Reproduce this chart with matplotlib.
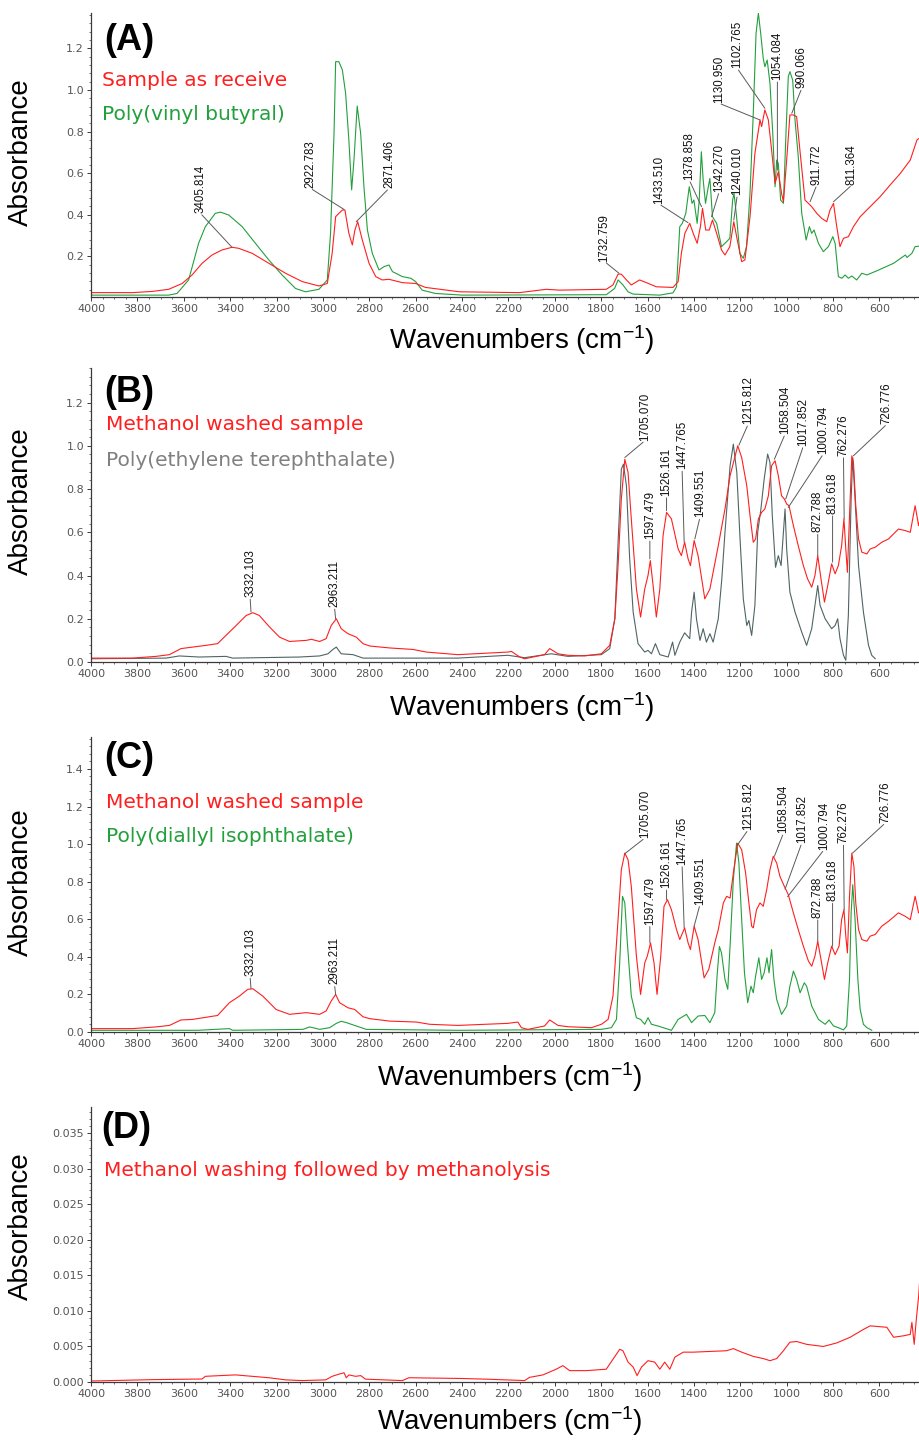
import matplotlib
matplotlib.use('Agg')
import matplotlib.pyplot as plt
from matplotlib.ticker import MultipleLocator, FormatStrFormatter

plt.rcParams['mathtext.fontset'] = 'custom'
plt.rcParams['mathtext.rm'] = 'Liberation Sans'
plt.rcParams['mathtext.it'] = 'Liberation Sans:italic'
plt.rcParams['mathtext.bf'] = 'Liberation Sans:bold'

# ---------------- data ----------------
# Panel A
a_red_wn = [4000, 3820, 3734, 3665, 3607, 3564, 3521, 3478, 3435, 3392,
            3363, 3305, 3233, 3161, 3089, 3017, 2981, 2960, 2945, 2931,
            2916, 2905, 2888, 2873, 2862, 2850, 2830, 2801, 2772, 2744,
            2715, 2657, 2600, 2557, 2411, 2152, 2037, 1979, 1778, 1749,
            1727, 1713, 1691, 1670, 1634, 1605, 1562, 1490, 1468, 1454,
            1439, 1418, 1403, 1386, 1372, 1363, 1349, 1334, 1320, 1302,
            1281, 1266, 1245, 1228, 1213, 1194, 1180, 1158, 1137, 1115,
            1108, 1094, 1079, 1065, 1050, 1036, 1022, 1014, 1000, 986,
            971, 957, 943, 921, 906, 892, 870, 849, 827, 813,
            798, 784, 770, 755, 734, 712, 683, 640, 597, 554,
            510, 467, 438, 425]
a_red_ab = [0.026, 0.026, 0.032, 0.042, 0.070, 0.111, 0.167, 0.207, 0.231, 0.244,
            0.239, 0.215, 0.167, 0.119, 0.079, 0.058, 0.070, 0.215, 0.391, 0.407,
            0.423, 0.423, 0.311, 0.255, 0.327, 0.367, 0.279, 0.167, 0.103, 0.087,
            0.090, 0.074, 0.070, 0.051, 0.030, 0.026, 0.042, 0.038, 0.042, 0.063,
            0.115, 0.115, 0.087, 0.063, 0.087, 0.074, 0.054, 0.051, 0.079, 0.215,
            0.311, 0.359, 0.311, 0.263, 0.343, 0.431, 0.327, 0.327, 0.375, 0.311,
            0.231, 0.207, 0.247, 0.367, 0.279, 0.175, 0.183, 0.391, 0.695, 0.856,
            0.824, 0.904, 0.856, 0.712, 0.551, 0.607, 0.503, 0.463, 0.663, 0.880,
            0.880, 0.872, 0.712, 0.471, 0.455, 0.439, 0.407, 0.383, 0.367, 0.423,
            0.455, 0.343, 0.247, 0.287, 0.295, 0.343, 0.391, 0.439, 0.487, 0.543,
            0.599, 0.663, 0.760, 0.770]
a_grn_wn = [4000, 3665, 3629, 3579, 3536, 3507, 3464, 3442, 3406, 3348,
            3291, 3233, 3176, 3118, 3075, 3017, 2981, 2967, 2952, 2945,
            2931, 2916, 2902, 2888, 2876, 2866, 2852, 2837, 2823, 2808,
            2787, 2758, 2736, 2715, 2700, 2657, 2621, 2600, 2572, 2514,
            2398, 1778, 1742, 1727, 1706, 1684, 1662, 1547, 1490, 1475,
            1461, 1450, 1435, 1420, 1408, 1400, 1386, 1377, 1368, 1360,
            1350, 1338, 1331, 1320, 1302, 1281, 1259, 1245, 1233, 1227,
            1216, 1202, 1187, 1173, 1158, 1144, 1132, 1122, 1112, 1101,
            1094, 1084, 1072, 1060, 1050, 1043, 1036, 1026, 1014, 1003,
            993, 986, 974, 964, 950, 935, 916, 902, 892, 882,
            863, 842, 820, 801, 791, 777, 762, 748, 734, 719,
            698, 676, 654, 611, 539, 488, 481, 460, 446, 425]
a_grn_ab = [0.014, 0.014, 0.022, 0.087, 0.263, 0.343, 0.407, 0.413, 0.399, 0.343,
            0.263, 0.183, 0.111, 0.046, 0.030, 0.042, 0.087, 0.311, 0.790, 1.136,
            1.136, 1.096, 0.984, 0.760, 0.520, 0.663, 0.923, 0.790, 0.535, 0.327,
            0.215, 0.135, 0.151, 0.159, 0.127, 0.103, 0.095, 0.079, 0.038, 0.022,
            0.014, 0.016, 0.046, 0.087, 0.063, 0.030, 0.019, 0.014, 0.025, 0.054,
            0.343, 0.359, 0.407, 0.535, 0.455, 0.471, 0.359, 0.471, 0.703, 0.567,
            0.455, 0.535, 0.575, 0.391, 0.359, 0.247, 0.271, 0.287, 0.471, 0.503,
            0.391, 0.215, 0.191, 0.247, 0.503, 0.888, 1.272, 1.369, 1.272, 1.152,
            1.112, 1.144, 1.032, 0.792, 0.535, 0.663, 0.647, 0.471, 0.455, 0.792,
            1.064, 1.088, 1.048, 0.856, 0.679, 0.407, 0.279, 0.343, 0.311, 0.327,
            0.263, 0.223, 0.247, 0.295, 0.263, 0.103, 0.095, 0.111, 0.095, 0.106,
            0.087, 0.119, 0.111, 0.131, 0.167, 0.207, 0.195, 0.215, 0.247, 0.250]

# Panel B
b_red_wn = [4000, 3821, 3720, 3662, 3612, 3562, 3504, 3454, 3418, 3374,
            3331, 3302, 3274, 3230, 3187, 3144, 3072, 3050, 3014, 2986,
            2964, 2942, 2921, 2892, 2856, 2827, 2798, 2712, 2611, 2554,
            2418, 2202, 2187, 2151, 2130, 2044, 2022, 1986, 1943, 1871,
            1799, 1763, 1741, 1727, 1713, 1698, 1684, 1670, 1648, 1630,
            1612, 1598, 1588, 1576, 1562, 1547, 1533, 1518, 1497, 1468,
            1454, 1440, 1425, 1415, 1399, 1382, 1353, 1331,
            1295, 1266, 1244, 1211, 1194, 1172, 1158, 1144, 1134, 1122,
            1108, 1094, 1079, 1065, 1050, 1036, 1022, 1010, 1000, 990,
            971, 950, 928, 910, 892, 878, 866, 852, 837, 823,
            806, 791, 777, 763, 753, 745, 738, 729, 719, 712,
            702, 690, 676, 654, 640, 618, 590, 561, 518, 489,
            467, 446, 431, 425]
b_red_ab = [0.018, 0.018, 0.026, 0.034, 0.062, 0.069, 0.077, 0.085, 0.123, 0.169,
            0.215, 0.228, 0.215, 0.162, 0.115, 0.095, 0.100, 0.105, 0.095, 0.108,
            0.169, 0.200, 0.154, 0.131, 0.115, 0.085, 0.074, 0.065, 0.058, 0.046,
            0.034, 0.046, 0.049, 0.023, 0.015, 0.034, 0.062, 0.038, 0.031, 0.028,
            0.038, 0.077, 0.200, 0.446, 0.754, 0.938, 0.877, 0.662, 0.338, 0.208,
            0.338, 0.400, 0.469, 0.354, 0.208, 0.338, 0.585, 0.692, 0.662, 0.523,
            0.492, 0.554, 0.477, 0.446, 0.562, 0.492, 0.292, 0.338,
            0.538, 0.708, 0.862, 1.000, 0.946, 0.815, 0.677, 0.554, 0.569, 0.662,
            0.692, 0.708, 0.769, 0.908, 0.931, 0.862, 0.769, 0.754, 0.731, 0.723,
            0.631, 0.538, 0.446, 0.385, 0.346, 0.400, 0.492, 0.385, 0.277, 0.354,
            0.454, 0.408, 0.446, 0.538, 0.662, 0.523, 0.415, 0.677, 0.954, 0.923,
            0.723, 0.569, 0.508, 0.500, 0.523, 0.531, 0.554, 0.569, 0.615, 0.608,
            0.600, 0.723, 0.631, 0.660]
b_pet_wn = [4000, 3677, 3619, 3533, 3418, 3389, 3101, 3014, 2978, 2957,
            2942, 2921, 2870, 2827, 2418, 2202, 2130, 2015, 1943, 1799,
            1763, 1741, 1727, 1713, 1704, 1691, 1677, 1662, 1641, 1612,
            1598, 1583, 1566, 1547, 1511, 1492, 1482, 1461, 1440, 1418,
            1410, 1399, 1389, 1374, 1360, 1346, 1331, 1317,
            1295, 1280, 1266, 1244, 1230, 1215, 1201, 1187, 1172, 1163,
            1151, 1137, 1125, 1111, 1097, 1082, 1072, 1062, 1048, 1036,
            1024, 1007, 1000, 986, 964, 935, 914, 892, 878, 866,
            856, 834, 806, 791, 780, 770, 755, 745, 734, 722,
            715, 705, 690, 669, 647, 633, 618]
b_pet_ab = [0.015, 0.018, 0.028, 0.023, 0.026, 0.018, 0.023, 0.028, 0.038, 0.058,
            0.069, 0.038, 0.034, 0.018, 0.018, 0.031, 0.020, 0.038, 0.026, 0.034,
            0.062, 0.200, 0.554, 0.892, 0.915, 0.815, 0.477, 0.231, 0.085, 0.046,
            0.054, 0.038, 0.085, 0.034, 0.023, 0.092, 0.031, 0.092, 0.135, 0.108,
            0.231, 0.323, 0.200, 0.100, 0.154, 0.092, 0.131, 0.092,
            0.200, 0.380, 0.600, 0.908, 1.008, 0.877, 0.569, 0.292, 0.169, 0.192,
            0.123, 0.262, 0.600, 0.708, 0.846, 0.962, 0.923, 0.677, 0.438, 0.492,
            0.446, 0.708, 0.523, 0.323, 0.231, 0.138, 0.077, 0.154, 0.262, 0.354,
            0.262, 0.200, 0.154, 0.169, 0.200, 0.108, 0.031, 0.008, 0.215, 0.754,
            0.946, 0.754, 0.446, 0.231, 0.077, 0.031, 0.015]

# Panel C
c_red_wn = [4000, 3821, 3720, 3662, 3612, 3562, 3490, 3454, 3403, 3360,
            3324, 3302, 3259, 3202, 3144, 3072, 3014, 2986, 2964, 2945,
            2928, 2892, 2863, 2827, 2798, 2712, 2597, 2539, 2418, 2202,
            2159, 2144, 2116, 2044, 2022, 1986, 1943, 1842, 1799, 1770,
            1749, 1730, 1713, 1698, 1684, 1670, 1648, 1630, 1612, 1601,
            1587, 1572, 1559, 1543, 1529, 1514, 1497, 1475, 1461, 1440,
            1425, 1415, 1399, 1382, 1356, 1336, 1310,
            1295, 1273, 1259, 1244, 1230, 1211, 1194, 1177, 1163, 1151,
            1144, 1130, 1115, 1101, 1086, 1072, 1058, 1043, 1029, 1010,
            993, 971, 950, 928, 906, 892, 878, 866, 852, 837,
            823, 806, 791, 774, 763, 753, 745, 738, 729, 719,
            710, 702, 690, 676, 654, 640, 618, 590, 561, 518,
            489, 467, 446, 431, 425]
c_red_ab = [0.018, 0.018, 0.027, 0.035, 0.064, 0.067, 0.081, 0.088, 0.156, 0.191,
            0.227, 0.230, 0.191, 0.120, 0.094, 0.103, 0.094, 0.112, 0.165, 0.200,
            0.156, 0.129, 0.120, 0.081, 0.071, 0.058, 0.053, 0.041, 0.035, 0.046,
            0.053, 0.023, 0.014, 0.032, 0.064, 0.035, 0.028, 0.023, 0.041, 0.067,
            0.191, 0.545, 0.864, 0.952, 0.917, 0.775, 0.404, 0.200, 0.368, 0.404,
            0.474, 0.368, 0.200, 0.404, 0.669, 0.704, 0.651, 0.545, 0.492, 0.554,
            0.474, 0.439, 0.563, 0.492, 0.288, 0.333, 0.474,
            0.545, 0.687, 0.722, 0.713, 0.846, 1.005, 0.970, 0.846, 0.687, 0.563,
            0.554, 0.651, 0.687, 0.669, 0.758, 0.864, 0.935, 0.899, 0.828, 0.775,
            0.731, 0.634, 0.545, 0.457, 0.377, 0.350, 0.404, 0.483, 0.386, 0.280,
            0.368, 0.457, 0.412, 0.457, 0.598, 0.651, 0.510, 0.421, 0.722, 0.952,
            0.881, 0.687, 0.545, 0.492, 0.483, 0.510, 0.519, 0.563, 0.589, 0.634,
            0.616, 0.598, 0.722, 0.634, 0.640]
c_grn_wn = [4000, 3539, 3403, 3389, 3086, 3057, 3014, 2971, 2942, 2921,
            2899, 2856, 2813, 2418, 1799, 1756, 1734, 1720, 1708, 1698,
            1687, 1670, 1648, 1630, 1612, 1598, 1583, 1555, 1497, 1468,
            1432, 1410, 1382, 1353, 1331, 1310,
            1300, 1290, 1281, 1266, 1254, 1244, 1230, 1216, 1206, 1194,
            1182, 1168, 1154, 1144, 1134, 1120, 1108, 1097, 1085, 1076,
            1065, 1055, 1043, 1022, 1000, 986, 971, 957, 942, 924,
            914, 892, 863, 834, 817, 798, 777, 755, 741, 729,
            722, 715, 705, 693, 683, 669, 654, 640, 633]
c_grn_ab = [0.009, 0.009, 0.018, 0.009, 0.014, 0.027, 0.014, 0.023, 0.046, 0.057,
            0.050, 0.032, 0.014, 0.009, 0.014, 0.023, 0.067, 0.368, 0.722, 0.687,
            0.474, 0.191, 0.076, 0.067, 0.041, 0.076, 0.041, 0.032, 0.009, 0.067,
            0.094, 0.050, 0.085, 0.088, 0.050, 0.103,
            0.300, 0.455, 0.421, 0.280, 0.227, 0.457, 0.810, 1.005, 0.900, 0.598,
            0.315, 0.156, 0.244, 0.209, 0.297, 0.395, 0.280, 0.315, 0.395, 0.315,
            0.439, 0.280, 0.173, 0.094, 0.138, 0.244, 0.324, 0.280, 0.209, 0.262,
            0.244, 0.138, 0.067, 0.041, 0.064, 0.032, 0.023, 0.011, 0.032, 0.280,
            0.634, 0.784, 0.598, 0.280, 0.120, 0.041, 0.023, 0.014, 0.009]

# Panel D
d_red_wn = [4000, 3737, 3521, 3507, 3449, 3377, 3305, 3233, 3161, 3089,
            2988, 2960, 2931, 2909, 2899, 2888, 2859, 2837, 2816, 2657,
            2629, 2411, 2296, 2130, 2109, 2051,
            1994, 1965, 1936, 1864, 1778, 1749, 1720, 1706, 1684, 1662,
            1645, 1626, 1598, 1569, 1547, 1526, 1504, 1482, 1446, 1403,
            1331, 1259, 1230, 1194, 1144, 1101, 1072, 1043, 1014, 986,
            957, 914, 842, 784, 726, 669, 640, 568, 539, 496,
            467, 460, 450, 441, 431, 427]
d_red_ab = [0.00014, 0.00033, 0.00042, 0.0008, 0.00089, 0.001, 0.0008, 0.0006, 0.0003, 0.0002,
            0.0003, 0.0008, 0.0011, 0.0013, 0.0006, 0.001, 0.0008, 0.0009, 0.0004, 0.0002,
            0.0006, 0.0005, 0.0004, 0.0002, 0.00065, 0.001,
            0.0018, 0.0023, 0.0016, 0.0016, 0.0018, 0.0032, 0.0046, 0.0044, 0.0028, 0.0021,
            0.0009, 0.0021, 0.0030, 0.0028, 0.0018, 0.0028, 0.0018, 0.0035, 0.0042, 0.0042,
            0.0043, 0.0044, 0.0047, 0.0042, 0.0036, 0.0033, 0.0030, 0.0033, 0.0044, 0.0056,
            0.0057, 0.0053, 0.0050, 0.0055, 0.0063, 0.0074, 0.0079, 0.0077, 0.0063, 0.0065,
            0.0067, 0.0084, 0.0053, 0.0088, 0.0120, 0.0140]

# Peak labels: (text, label wavenumber, label absorbance, peak wavenumber, peak absorbance)
a_peaks = [("3405.814", 3528, 0.407, 3392, 0.244),
           ("2922.783", 3053, 0.527, 2909, 0.426),
           ("2871.406", 2715, 0.527, 2856, 0.367),
           ("1732.759", 1785, 0.175, 1723, 0.119),
           ("1433.510", 1550, 0.452, 1425, 0.362),
           ("1378.858", 1420, 0.567, 1367, 0.439),
           ("1342.270", 1291, 0.511, 1324, 0.391),
           ("1240.010", 1213, 0.495, 1228, 0.375),
           ("1130.950", 1291, 0.936, 1115, 0.856),
           ("1102.765", 1213, 1.104, 1094, 0.912),
           ("1054.084", 1040, 1.048, 1040, 0.615),
           ("990.066", 935, 1.008, 978, 0.888),
           ("911.772", 870, 0.543, 899, 0.463),
           ("811.364", 719, 0.543, 798, 0.463)]
b_peaks = [("3332.103", 3314, 0.300, 3310, 0.231),
           ("2963.211", 2950, 0.254, 2945, 0.200),
           ("1705.070", 1612, 1.023, 1698, 0.946),
           ("1597.479", 1590, 0.569, 1590, 0.477),
           ("1526.161", 1518, 0.769, 1518, 0.700),
           ("1447.765", 1451, 0.892, 1442, 0.554),
           ("1409.551", 1374, 0.669, 1396, 0.569),
           ("1215.812", 1166, 1.100, 1206, 1.003),
           ("1058.504", 1007, 1.054, 1053, 0.938),
           ("1017.852", 928, 1.000, 1004, 0.754),
           ("1000.794", 842, 0.962, 993, 0.715),
           ("872.788", 866, 0.600, 866, 0.492),
           ("813.618", 802, 0.685, 802, 0.462),
           ("762.276", 755, 0.954, 752, 0.662),
           ("726.776", 568, 1.100, 712, 0.954)]
c_peaks = [("3332.103", 3314, 0.297, 3310, 0.230),
           ("2963.211", 2950, 0.253, 2945, 0.200),
           ("1705.070", 1612, 1.032, 1698, 0.949),
           ("1597.479", 1590, 0.572, 1590, 0.474),
           ("1526.161", 1518, 0.766, 1518, 0.704),
           ("1447.765", 1451, 0.890, 1442, 0.554),
           ("1409.551", 1374, 0.678, 1399, 0.563),
           ("1215.812", 1166, 1.076, 1212, 0.996),
           ("1058.504", 1014, 1.058, 1053, 0.935),
           ("1017.852", 935, 1.005, 1007, 0.760),
           ("1000.794", 839, 0.970, 996, 0.720),
           ("872.788", 866, 0.607, 866, 0.483),
           ("813.618", 802, 0.696, 802, 0.457),
           ("762.276", 755, 1.005, 752, 0.651),
           ("726.776", 575, 1.112, 716, 0.952)]

x_ticks = list(range(4000, 599, -200))
a_yticks = [0.2, 0.4, 0.6, 0.8, 1.0, 1.2]
b_yticks = [0.0, 0.2, 0.4, 0.6, 0.8, 1.0, 1.2]
c_yticks = [0.0, 0.2, 0.4, 0.6, 0.8, 1.0, 1.2, 1.4]
d_yticks = [0.000, 0.005, 0.010, 0.015, 0.020, 0.025, 0.030, 0.035]

RED = '#ff1f1f'
GREEN = '#22a03c'
GRAY_LINE = '#4f6464'
GRAY_TEXT = '#808080'

# ---------------- layout ----------------
W, H = 920, 1442
fig = plt.figure(figsize=(W / 100, H / 100), dpi=100)


def rect(top, bottom, left=91, right=920):
    return [left / W, 1 - bottom / H, (right - left) / W, (bottom - top) / H]


def ftext(x, y, s, **kw):
    fig.text(x / W, 1 - y / H, s, **kw)


panels = [
    dict(rect=rect(13, 297), ylim=(0.005, 1.37), yticks=a_yticks, fmt='%.1f', minor=0.04,
         curves=[(a_grn_wn, a_grn_ab, GREEN), (a_red_wn, a_red_ab, RED)], peaks=a_peaks,
         letter='(A)', letter_pos=(104, 40),
         texts=[("Sample as receive", RED, 102, 80), ("Poly(vinyl butyral)", GREEN, 102, 115)],
         ylab_y=152, xlab=(522, 340)),
    dict(rect=rect(368, 662), ylim=(0.0, 1.36), yticks=b_yticks, fmt='%.1f', minor=0.04,
         curves=[(b_pet_wn, b_pet_ab, GRAY_LINE), (b_red_wn, b_red_ab, RED)], peaks=b_peaks,
         letter='(B)', letter_pos=(104, 392),
         texts=[("Methanol washed sample", RED, 106, 425),
                ("Poly(ethylene terephthalate)", GRAY_TEXT, 106, 460)],
         ylab_y=501, xlab=(522, 707)),
    dict(rect=rect(737, 1032), ylim=(0.0, 1.57), yticks=c_yticks, fmt='%.1f', minor=0.04,
         curves=[(c_grn_wn, c_grn_ab, GREEN), (c_red_wn, c_red_ab, RED)], peaks=c_peaks,
         letter='(C)', letter_pos=(104, 758),
         texts=[("Methanol washed sample", RED, 106, 802),
                ("Poly(diallyl isophthalate)", GREEN, 106, 836)],
         ylab_y=882, xlab=(510, 1077)),
    dict(rect=rect(1107, 1382), ylim=(0.0, 0.0387), yticks=d_yticks, fmt='%.3f', minor=0.001,
         curves=[(d_red_wn, d_red_ab, RED)], peaks=[],
         letter='(D)', letter_pos=(101, 1128),
         texts=[("Methanol washing followed by methanolysis", RED, 104, 1170)],
         ylab_y=1226, xlab=(510, 1421)),
]

for p in panels:
    ax = fig.add_axes(p['rect'])
    for wn, ab, col in p['curves']:
        ax.plot(wn, ab, color=col, lw=0.8, solid_joinstyle='round')
    ax.set_xlim(4000, 425)
    ax.set_ylim(*p['ylim'])
    ax.set_xticks(x_ticks)
    ax.xaxis.set_minor_locator(MultipleLocator(50))
    ax.set_yticks(p['yticks'])
    ax.yaxis.set_major_formatter(FormatStrFormatter(p['fmt']))
    ax.yaxis.set_minor_locator(MultipleLocator(p['minor']))
    for s in ('top', 'right'):
        ax.spines[s].set_visible(False)
    for s in ('left', 'bottom'):
        ax.spines[s].set_color('#3a3a3a')
        ax.spines[s].set_linewidth(0.9)
    ax.tick_params(which='major', direction='out', length=3, width=0.7, color='#3a3a3a',
                   labelsize=8, labelcolor='#555555', pad=2)
    ax.tick_params(which='minor', direction='out', length=1.6, width=0.5, color='#3a3a3a')
    for lbl in ax.get_xticklabels() + ax.get_yticklabels():
        lbl.set_family('DejaVu Sans')

    for txt, tw, ta, pw, pa in p['peaks']:
        ax.annotate(txt, xy=(pw, pa), xytext=(tw, ta), textcoords='data',
                    rotation=90, ha='center', va='bottom', fontsize=8.3,
                    family='Liberation Sans', color='#111111',
                    arrowprops=dict(arrowstyle='-', color='#5a5a5a', lw=0.7,
                                    relpos=(0.5, 0.0), patchA=None,
                                    shrinkA=1.5, shrinkB=0))

    ftext(p['letter_pos'][0], p['letter_pos'][1], p['letter'], fontsize=26,
          fontweight='bold', family='Liberation Sans', ha='left', va='center', color='black')
    for s, col, x, y in p['texts']:
        ftext(x, y, s, fontsize=14.5, color=col, family='DejaVu Sans', ha='left', va='center')
    ftext(21, p['ylab_y'], 'Absorbance', fontsize=20, family='Liberation Sans',
          rotation=90, ha='center', va='center', color='black')
    ftext(p['xlab'][0], p['xlab'][1], r'Wavenumbers (cm$^{-1}$)', fontsize=20,
          family='Liberation Sans', ha='center', va='center', color='black')

fig.savefig('out.png', dpi=100)
